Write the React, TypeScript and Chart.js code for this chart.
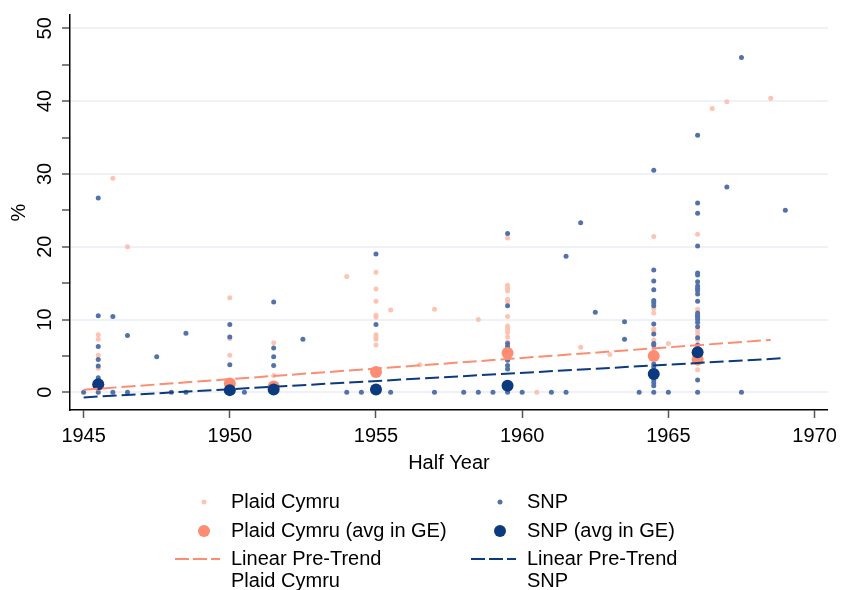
import React, { useEffect, useRef } from "react";
import { Chart, registerables } from "chart.js";

Chart.register(...registerables);

// ---- axis ticks ----
const xTicks = [1945, 1950, 1955, 1960, 1965, 1970];
const yTickMarks = [0, 5, 10, 15, 20, 25, 30, 35, 40, 45, 50];
const yTickLabels = [0, 10, 20, 30, 40, 50];

// ---- Plaid Cymru results by half year: [halfYear, values %] ----
const plaidResults: [number, number[]][] = [
  [1945.5, [7.9, 7.3, 5.1, 3.3]],
  [1946.0, [29.4]],
  [1946.5, [20.0]],
  [1950.0, [13.0, 7.4, 5.1]],
  [1951.5, [6.8, 2.3]],
  [1954.0, [15.9]],
  [1955.0, [16.5, 14.2, 12.5, 10.6, 10.3, 7.9, 7.6, 7.3, 6.5]],
  [1955.5, [11.3]],
  [1956.5, [3.8]],
  [1957.0, [11.4]],
  [1958.5, [10.0]],
  [1959.5, [21.2, 14.7, 14.3, 13.9, 12.8, 12.4, 10.4, 9.1, 8.7, 8.2, 7.6, 6.9, 5.9]],
  [1960.5, [0]],
  [1962.0, [6.2]],
  [1963.0, [5.2]],
  [1964.5, [21.4, 11.5, 10.9, 8.7, 8.5, 7.2, 6.0]],
  [1965.0, [6.7]],
  [1966.0, [21.7, 11.4, 8.5, 8.0, 7.2, 4.0, 3.1]],
  [1966.5, [39.0]],
  [1967.0, [39.9]],
  [1968.5, [40.4]],
];

// ---- SNP results by half year ----
const snpResults: [number, number[]][] = [
  [1945.0, [0]],
  [1945.5, [26.7, 10.5, 6.3, 4.5, 3.6, 2.0, 0]],
  [1946.0, [10.4, 0]],
  [1946.5, [7.8, 0]],
  [1947.5, [4.9]],
  [1948.0, [0]],
  [1948.5, [8.1, 0]],
  [1950.0, [9.3, 7.6, 3.8, 1.6, 0]],
  [1950.5, [0]],
  [1951.5, [12.4, 6.1, 4.9, 3.7, 0]],
  [1952.5, [7.3]],
  [1954.0, [0]],
  [1954.5, [0]],
  [1955.0, [19.0, 9.3, 0]],
  [1955.5, [0]],
  [1957.0, [0]],
  [1958.0, [0]],
  [1958.5, [0]],
  [1959.0, [0]],
  [1959.5, [21.8, 11.9, 6.7, 6.3, 4.4, 3.7, 3.2, 0]],
  [1960.0, [0]],
  [1961.0, [0]],
  [1961.5, [18.7, 0]],
  [1962.0, [23.3]],
  [1962.5, [11.0]],
  [1963.5, [9.7, 7.3]],
  [1964.0, [0]],
  [1964.5, [30.5, 16.8, 15.3, 14.1, 12.6, 12.3, 11.9, 9.4, 8.0, 6.7, 6.5, 3.9, 3.5, 1.7, 1.3, 0.9, 0]],
  [1965.0, [0]],
  [1966.0, [35.3, 26.0, 24.6, 20.1, 16.4, 16.1, 15.2, 14.6, 14.3, 14.0, 13.5, 12.5, 10.9, 10.6, 10.3, 10.0, 9.6, 9.0, 7.5, 6.5, 1.7, 0]],
  [1967.0, [28.2]],
  [1967.5, [46.0, 0]],
  [1969.0, [25.0]],
];

// ---- general election averages ----
const geYears = [1945.5, 1950.0, 1951.5, 1955.0, 1959.5, 1964.5, 1966.0];
const plaidGeAvg = [1.0, 1.2, 0.8, 2.8, 5.4, 5.0, 4.5];
const snpGeAvg = [1.1, 0.3, 0.4, 0.4, 0.9, 2.5, 5.5];

// ---- linear pre-trends (end points) ----
const plaidTrendYears = [1945.0, 1968.5];
const plaidTrendValues = [0.35, 7.2];
const snpTrendYears = [1945.0, 1969.0];
const snpTrendValues = [-0.7, 4.7];

const FONT_FAMILY = '"Liberation Sans", Arial, Helvetica, sans-serif';
const PINK_LIGHT = "rgba(253, 190, 172, 0.9)";
const PINK = "#fc8c72";
const SNP_LIGHT = "#5472aa";
const NAVY = "#0c3a7f";

const flatten = (groups: [number, number[]][]) =>
  groups.flatMap(([x, vals]) => vals.map((y) => ({ x, y })));
const zip = (xs: number[], ys: number[]) => xs.map((x, i) => ({ x, y: ys[i] }));

type LegendEntry = { text: string[]; kind: "small" | "big" | "dash"; color: string };
const legendEntries: LegendEntry[] = [
  { text: ["Plaid Cymru"], kind: "small", color: PINK_LIGHT },
  { text: ["SNP"], kind: "small", color: SNP_LIGHT },
  { text: ["Plaid Cymru (avg in GE)"], kind: "big", color: PINK },
  { text: ["SNP (avg in GE)"], kind: "big", color: NAVY },
  { text: ["Linear Pre-Trend", "Plaid Cymru"], kind: "dash", color: PINK },
  { text: ["Linear Pre-Trend", "SNP"], kind: "dash", color: NAVY },
];

const overlayPlugin = {
  id: "overlay",
  afterDraw(chart: any) {
    const ctx: CanvasRenderingContext2D = chart.ctx;
    const yScale = chart.scales.y;
    ctx.save();
    ctx.font = `20px ${FONT_FAMILY}`;
    ctx.fillStyle = "#000";
    ctx.textAlign = "center";
    ctx.textBaseline = "middle";
    for (const v of yTickLabels) {
      const py = yScale.getPixelForValue(v);
      ctx.save();
      ctx.translate(45, py);
      ctx.rotate(-Math.PI / 2);
      ctx.fillText(String(v), 0, 0);
      ctx.restore();
    }

    // legend: two columns, three rows
    const colMarkerX = [204, 500];
    const colTextX = [231, 527];
    const rowY = [502, 531, 559];
    ctx.textAlign = "left";
    legendEntries.forEach((e, i) => {
      const col = i % 2;
      const row = Math.floor(i / 2);
      const y = rowY[row];
      const mx = colMarkerX[col];
      if (e.kind === "small" || e.kind === "big") {
        ctx.beginPath();
        ctx.fillStyle = e.color;
        ctx.arc(mx, y, e.kind === "small" ? 2.5 : 6, 0, Math.PI * 2);
        ctx.fill();
      } else {
        ctx.beginPath();
        ctx.strokeStyle = e.color;
        ctx.lineWidth = 2;
        ctx.setLineDash([14, 4]);
        ctx.moveTo(mx - 29, y);
        ctx.lineTo(mx + 16, y);
        ctx.stroke();
        ctx.setLineDash([]);
      }
      ctx.fillStyle = "#000";
      e.text.forEach((t, k) => ctx.fillText(t, colTextX[col], y + k * 22));
    });
    ctx.restore();
  },
};

export default function App() {
  const ref = useRef<HTMLCanvasElement>(null);

  useEffect(() => {
    const canvas = ref.current;
    if (!canvas) return;
    Chart.defaults.font.family = FONT_FAMILY;
    Chart.defaults.color = "#000";

    const chart = new Chart(canvas, {
      type: "scatter",
      data: {
        datasets: [
          {
            label: "Linear Pre-Trend SNP",
            data: zip(snpTrendYears, snpTrendValues),
            showLine: true,
            borderColor: NAVY,
            borderWidth: 2,
            borderDash: [14, 5],
            pointRadius: 0,
            order: 0,
          },
          {
            label: "Linear Pre-Trend Plaid Cymru",
            data: zip(plaidTrendYears, plaidTrendValues),
            showLine: true,
            borderColor: PINK,
            borderWidth: 2,
            borderDash: [14, 5],
            pointRadius: 0,
            order: 1,
          },
          {
            label: "SNP (avg in GE)",
            data: zip(geYears, snpGeAvg),
            backgroundColor: NAVY,
            borderWidth: 0,
            pointRadius: 6,
            order: 2,
          },
          {
            label: "Plaid Cymru (avg in GE)",
            data: zip(geYears, plaidGeAvg),
            backgroundColor: PINK,
            borderWidth: 0,
            pointRadius: 6,
            order: 3,
          },
          {
            label: "SNP",
            data: flatten(snpResults),
            backgroundColor: SNP_LIGHT,
            borderWidth: 0,
            pointRadius: 2.5,
            order: 4,
          },
          {
            label: "Plaid Cymru",
            data: flatten(plaidResults),
            backgroundColor: PINK_LIGHT,
            borderWidth: 0,
            pointRadius: 2.5,
            order: 5,
          },
        ],
      },
      options: {
        responsive: false,
        animation: false,
        devicePixelRatio: 1,
        events: [],
        layout: { padding: { left: 0, right: 11, top: 15, bottom: 115 } },
        plugins: {
          legend: { display: false },
          tooltip: { enabled: false },
          title: { display: false },
        },
        scales: {
          x: {
            type: "linear",
            min: 1944.534,
            max: 1970.456,
            afterBuildTicks: (scale: any) => {
              scale.ticks = xTicks.map((v) => ({ value: v }));
            },
            afterFit: (scale: any) => {
              scale.height = 65;
            },
            ticks: {
              callback: (v: any) => String(v),
              font: { size: 20 },
              color: "#000",
              padding: 6,
              maxRotation: 0,
              autoSkip: false,
            },
            grid: {
              drawOnChartArea: false,
              drawTicks: true,
              tickLength: 8,
              tickColor: "#555",
              tickWidth: 1.5,
            },
            border: { display: true, color: "#000", width: 1.5 },
            title: {
              display: true,
              text: "Half Year",
              font: { size: 20 },
              color: "#000",
              padding: { top: 0, bottom: 0 },
            },
          },
          y: {
            type: "linear",
            min: -2.43,
            max: 51.83,
            afterBuildTicks: (scale: any) => {
              scale.ticks = yTickMarks.map((v) => ({ value: v }));
            },
            afterFit: (scale: any) => {
              scale.width = 70;
            },
            ticks: { display: false },
            grid: {
              drawOnChartArea: true,
              drawTicks: true,
              tickLength: 8,
              tickColor: "#555",
              tickWidth: 1.5,
              lineWidth: 2,
              color: (c: any) =>
                c.tick && yTickLabels.includes(c.tick.value) ? "#eef2f8" : "rgba(0,0,0,0)",
            },
            border: { display: true, color: "#000", width: 1.5 },
            title: {
              display: true,
              text: "%",
              font: { size: 20 },
              color: "#000",
              padding: { top: 7, bottom: 0 },
            },
          },
        },
      },
      plugins: [overlayPlugin],
    });
    return () => chart.destroy();
  }, []);

  return (
    <div style={{ position: "absolute", left: 0, top: 0, width: 843, height: 590, background: "#fff" }}>
      <canvas ref={ref} width={843} height={590} style={{ display: "block", width: 843, height: 590 }} />
    </div>
  );
}
